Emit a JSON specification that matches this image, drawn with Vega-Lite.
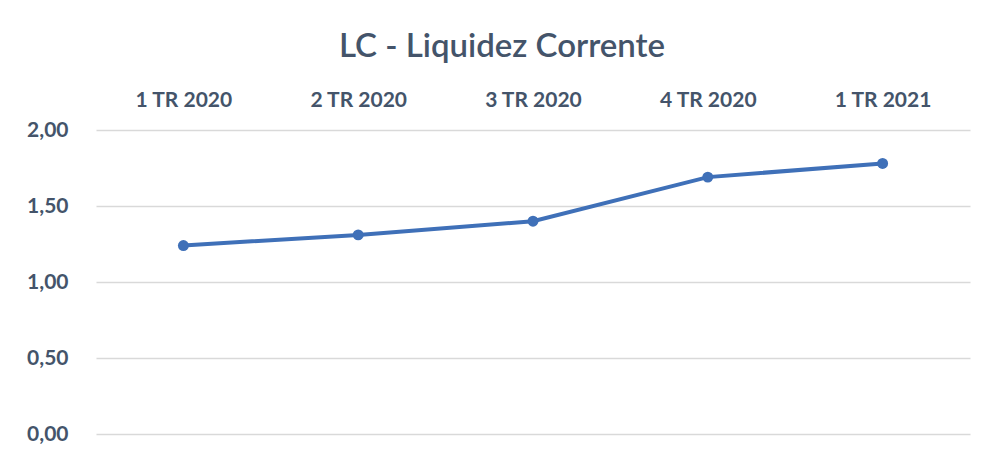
{
  "$schema": "https://vega.github.io/schema/vega-lite/v6.json",
  "autosize": {"type": "none"},
  "width": 874,
  "height": 304,
  "padding": {"left": 96, "top": 130, "right": 14, "bottom": 18},
  "background": "white",
  "config": {
    "locale": {"number": {"decimal": ",", "thousands": ".", "grouping": [3], "currency": ["R$", ""]}},
    "view": {"stroke": null},
    "font": "Lato"
  },
  "title": {
    "text": "LC - Liquidez Corrente",
    "font": "Lato",
    "fontSize": 33,
    "fontWeight": 600,
    "color": "#44546A",
    "dx": -31,
    "offset": 25
  },
  "data": {
    "values": [
      {"periodo": "1 TR 2020", "lc": 1.24},
      {"periodo": "2 TR 2020", "lc": 1.31},
      {"periodo": "3 TR 2020", "lc": 1.40},
      {"periodo": "4 TR 2020", "lc": 1.69},
      {"periodo": "1 TR 2021", "lc": 1.78}
    ]
  },
  "encoding": {
    "x": {
      "field": "periodo",
      "type": "nominal",
      "sort": null,
      "scale": {"type": "point", "padding": 0.5},
      "axis": {
        "orient": "top",
        "title": null,
        "labelAngle": 0,
        "domain": false,
        "ticks": false,
        "labelFont": "Lato",
        "labelFontSize": 21,
        "labelFontWeight": "bold",
        "labelColor": "#44546A",
        "labelPadding": 20
      }
    },
    "y": {
      "field": "lc",
      "type": "quantitative",
      "scale": {"domain": [0, 2]},
      "axis": {
        "title": null,
        "values": [0, 0.5, 1, 1.5, 2],
        "format": ".2f",
        "domain": false,
        "ticks": false,
        "grid": true,
        "gridColor": "#D9D9D9",
        "gridWidth": 1.5,
        "labelFont": "Lato",
        "labelFontSize": 21,
        "labelFontWeight": "bold",
        "labelColor": "#44546A",
        "labelPadding": 28
      }
    }
  },
  "layer": [
    {"mark": {"type": "line", "color": "#3F70B8", "strokeWidth": 4}},
    {"mark": {"type": "point", "filled": true, "color": "#3F70B8", "size": 120, "opacity": 1}}
  ]
}
